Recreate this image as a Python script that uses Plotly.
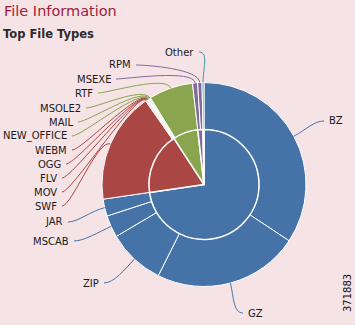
import math
import plotly.graph_objects as go

# File type breakdown (percent of files), grouped by family
categories = ["Archive", "Media", "Document", "Executable", "Other"]
category_colors = ["#4572A7", "#AA4643", "#89A54E", "#80699B", "#3D96AE"]

file_types = ["BZ", "GZ", "ZIP", "MSCAB", "JAR",
              "SWF", "MOV", "FLV", "OGG", "WEBM",
              "NEW_OFFICE", "MAIL", "MSOLE2", "RTF",
              "MSEXE", "RPM",
              "Other"]
type_values = [34.3, 23.1, 9.1, 3.5, 2.7,
               17.6, 0.15, 0.15, 0.1, 0.1,
               0.15, 0.1, 0.15, 7.0,
               0.8, 0.7,
               0.3]
type_category = ["Archive"] * 5 + ["Media"] * 5 + ["Document"] * 4 + ["Executable"] * 2 + ["Other"]

category_values = [sum(v for v, c in zip(type_values, type_category) if c == cat) for cat in categories]
color_of = dict(zip(categories, category_colors))

W, H = 355, 325
CX, CY = 204, 184.5          # pie centre in pixels
R_OUT, R_IN = 102, 55        # outer ring radius, inner pie radius
BG = "#f6e3e5"

# Label text anchors in pixels: (x, y, anchor side)
label_spots = {
    "BZ": (327, 121, "left"), "GZ": (246, 313, "left"), "ZIP": (101, 283, "right"),
    "MSCAB": (71, 241, "right"), "JAR": (65, 222, "right"), "SWF": (59, 206, "right"),
    "MOV": (59, 192, "right"), "FLV": (59, 178, "right"), "OGG": (63, 164, "right"),
    "WEBM": (69, 150, "right"), "NEW_OFFICE": (69, 136, "right"), "MAIL": (75, 122, "right"),
    "MSOLE2": (83, 108, "right"), "RTF": (95, 93, "right"), "MSEXE": (113, 79, "right"),
    "RPM": (133, 65, "right"), "Other": (196, 52, "right"),
}


def px(x, y):
    return x / W, 1 - y / H


fig = go.Figure()

fig.add_trace(go.Pie(
    labels=file_types, values=type_values, hole=R_IN / R_OUT,
    sort=False, direction="clockwise", rotation=0,
    marker=dict(colors=[color_of[c] for c in type_category], line=dict(color="white", width=1)),
    textinfo="none", hoverinfo="label+percent", showlegend=False,
    domain=dict(x=[(CX - R_OUT) / W, (CX + R_OUT) / W],
                y=[1 - (CY + R_OUT) / H, 1 - (CY - R_OUT) / H]),
))
fig.add_trace(go.Pie(
    labels=categories, values=category_values,
    sort=False, direction="clockwise", rotation=0,
    marker=dict(colors=category_colors, line=dict(color="white", width=1.5)),
    textinfo="none", hoverinfo="label+percent", showlegend=False,
    domain=dict(x=[(CX - R_IN) / W, (CX + R_IN) / W],
                y=[1 - (CY + R_IN) / H, 1 - (CY - R_IN) / H]),
))

# Leader lines and labels for each file type
shapes, annotations = [], []
total = sum(type_values)
cum = 0.0
for name, val, cat in zip(file_types, type_values, type_category):
    theta = 2 * math.pi * (cum + val / 2) / total
    cum += val
    sx, sy = math.sin(theta), -math.cos(theta)
    ex, ey = CX + R_OUT * sx, CY + R_OUT * sy
    c2x, c2y = CX + (R_OUT + 14) * sx, CY + (R_OUT + 14) * sy
    lx, ly, side = label_spots[name]
    if side == "right":
        x0 = lx + 3
        c1x = x0 + 10
    else:
        x0 = lx - 3
        c1x = x0 - 10
    p = [px(x0, ly), px(c1x, ly), px(c2x, c2y), px(ex, ey)]
    path = "M {:.5f},{:.5f} C {:.5f},{:.5f} {:.5f},{:.5f} {:.5f},{:.5f}".format(
        *[c for pt in p for c in pt])
    shapes.append(dict(type="path", xref="paper", yref="paper", path=path,
                       line=dict(color=color_of[cat], width=1)))
    ax_, ay_ = px(lx, ly)
    annotations.append(dict(x=ax_, y=ay_, xref="paper", yref="paper", text=name,
                            showarrow=False, xanchor=side, yanchor="middle",
                            font=dict(family="DejaVu Sans", size=10, color="#1a1a1a")))

annotations += [
    dict(x=2 / W, y=1 - 11 / H, xref="paper", yref="paper", text="File Information",
         showarrow=False, xanchor="left", yanchor="middle",
         font=dict(family="DejaVu Sans", size=14.5, color="#9e1c3d")),
    dict(x=1 / W, y=1 - 34 / H, xref="paper", yref="paper", text="<b>Top File Types</b>",
         showarrow=False, xanchor="left", yanchor="middle",
         font=dict(family="DejaVu Sans", size=11.5, color="#2b2b2b")),
    dict(x=347 / W, y=1 - 293 / H, xref="paper", yref="paper", text="371883",
         showarrow=False, textangle=-90, xanchor="center", yanchor="middle",
         font=dict(family="DejaVu Sans", size=10, color="#111111")),
]

fig.update_layout(
    width=W, height=H, autosize=False,
    margin=dict(l=0, r=0, t=0, b=0),
    paper_bgcolor=BG, plot_bgcolor=BG,
    shapes=shapes, annotations=annotations,
    showlegend=False,
)

fig.write_html("out.html")
